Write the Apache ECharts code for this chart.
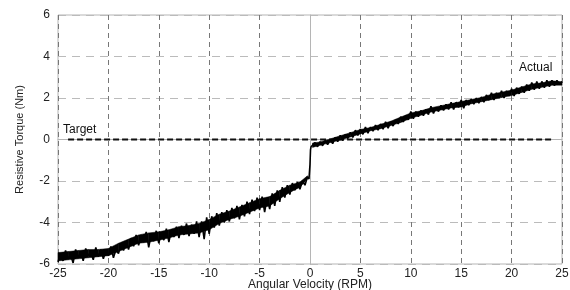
<!DOCTYPE html>
<html>
<head>
<meta charset="utf-8">
<script src="https://cdn.jsdelivr.net/npm/echarts@6/dist/echarts.min.js"></script>
<style>
  html, body { margin: 0; padding: 0; background: #fff; }
  #main { width: 570px; height: 290px; }
</style>
</head>
<body>
<div id="main"></div>
<script>
var rpm = [
  -25, -24.75, -24.5, -24.25, -24, -23.75, -23.5, -23.25,
  -23, -22.75, -22.5, -22.25, -22, -21.75, -21.5, -21.25,
  -21, -20.75, -20.5, -20.25, -20, -19.75, -19.5, -19.25,
  -19, -18.75, -18.5, -18.25, -18, -17.75, -17.5, -17.25,
  -17, -16.75, -16.5, -16.25, -16, -15.75, -15.5, -15.25,
  -15, -14.75, -14.5, -14.25, -14, -13.75, -13.5, -13.25,
  -13, -12.75, -12.5, -12.25, -12, -11.75, -11.5, -11.25,
  -11, -10.75, -10.5, -10.25, -10, -9.75, -9.5, -9.25,
  -9, -8.75, -8.5, -8.25, -8, -7.75, -7.5, -7.25,
  -7, -6.75, -6.5, -6.25, -6, -5.75, -5.5, -5.25,
  -5, -4.75, -4.5, -4.25, -4, -3.75, -3.5, -3.25,
  -3, -2.75, -2.5, -2.25, -2, -1.75, -1.5, -1.25,
  -1, -0.75, -0.5, -0.25, -0.1, 0, 0.05, 0.1,
  0.25, 0.5, 0.75, 1, 1.25, 1.5, 1.75,
  2, 2.25, 2.5, 2.75, 3, 3.25, 3.5, 3.75,
  4, 4.25, 4.5, 4.75, 5, 5.25, 5.5, 5.75,
  6, 6.25, 6.5, 6.75, 7, 7.25, 7.5, 7.75,
  8, 8.25, 8.5, 8.75, 9, 9.25, 9.5, 9.75,
  10, 10.25, 10.5, 10.75, 11, 11.25, 11.5, 11.75,
  12, 12.25, 12.5, 12.75, 13, 13.25, 13.5, 13.75,
  14, 14.25, 14.5, 14.75, 15, 15.25, 15.5, 15.75,
  16, 16.25, 16.5, 16.75, 17, 17.25, 17.5, 17.75,
  18, 18.25, 18.5, 18.75, 19, 19.25, 19.5, 19.75,
  20, 20.25, 20.5, 20.75, 21, 21.25, 21.5, 21.75,
  22, 22.25, 22.5, 22.75, 23, 23.25, 23.5, 23.75,
  24, 24.25, 24.5, 24.75, 25
];
var torque = [
  -5.9, -5.5, -5.85, -5.35, -5.75, -5.55, -5.95, -5.3,
  -5.7, -5.4, -5.85, -5.25, -5.6, -5.45, -5.8, -5.2,
  -5.65, -5.3, -5.75, -5.35, -5.6, -5.15, -5.7, -5.3,
  -5.5, -5.05, -5.35, -4.9, -5.3, -4.75, -5.15, -4.6,
  -5.1, -4.6, -4.95, -4.45, -5.2, -4.55, -4.9, -4.4,
  -5.0, -4.5, -4.85, -4.3, -4.95, -4.35, -4.7, -4.2,
  -4.75, -4.15, -4.6, -4.05, -4.65, -4.1, -4.55, -3.95,
  -4.7, -3.95, -4.8, -3.75, -4.55, -3.7, -4.25, -3.55,
  -4.15, -3.5, -4.0, -3.4, -3.95, -3.3, -3.8, -3.2,
  -3.85, -3.15, -3.7, -3.0, -3.6, -2.9, -3.45, -2.8,
  -3.4, -2.75, -3.5, -2.8, -3.35, -2.6, -3.2, -2.45,
  -3.0, -2.3, -2.8, -2.2, -2.65, -2.1, -2.45, -2.05,
  -2.4, -2.0, -2.2, -1.8, -1.9, -1.2, -0.5, -0.35,
  -0.4, -0.15, -0.35, -0.1, -0.3, -0.05, -0.25,
  0.0, -0.2, 0.1, -0.1, 0.2, -0.05, 0.25, 0.05,
  0.35, 0.1, 0.45, 0.2, 0.5, 0.25, 0.6, 0.3,
  0.6, 0.4, 0.7, 0.45, 0.75, 0.5, 0.85, 0.55,
  0.85, 0.65, 0.95, 0.75, 1.1, 0.85, 1.15, 0.95,
  1.35, 1.0, 1.35, 1.1, 1.4, 1.15, 1.45, 1.2,
  1.6, 1.25, 1.55, 1.35, 1.65, 1.4, 1.7, 1.45,
  1.8, 1.45, 1.8, 1.55, 1.9, 1.5, 1.9, 1.65,
  1.95, 1.7, 2.0, 1.75, 2.05, 1.8, 2.15, 1.9,
  2.25, 1.9, 2.25, 2.0, 2.35, 2.0, 2.35, 2.1,
  2.45, 2.1, 2.5, 2.2, 2.55, 2.25, 2.65, 2.35,
  2.75, 2.4, 2.8, 2.45, 2.8, 2.5, 2.85, 2.55,
  2.85, 2.6, 2.85, 2.65, 2.8
];
// solid core of the trace (where the noise overlaps completely)
var coreRpm = [
  -25, -24, -23, -22, -21, -20, -19, -18, -17, -16, -15, -14, -13,
  -12, -11, -10, -9, -8, -7, -6, -5, -4, -3, -2, -1, -0.25,
  0.25, 1, 2, 3, 4, 5, 6, 7, 8, 9, 10, 11, 12, 13,
  14, 15, 16, 17, 18, 19, 20, 21, 22, 23, 24, 25
];
var coreLow = [
  -5.85, -5.8, -5.75, -5.7, -5.65, -5.6, -5.4, -5.2, -5.0, -4.95, -4.85, -4.75, -4.6,
  -4.55, -4.5, -4.35, -4.05, -3.85, -3.7, -3.5, -3.3, -3.2, -2.85, -2.55, -2.3, -1.9,
  -0.38, -0.28, -0.15, -0.03, 0.12, 0.27, 0.42, 0.52, 0.67, 0.82, 1.02, 1.17, 1.32, 1.42,
  1.52, 1.57, 1.72, 1.82, 1.92, 2.02, 2.12, 2.27, 2.42, 2.52, 2.62, 2.62
];
var coreHigh = [
  -5.45, -5.4, -5.35, -5.3, -5.3, -5.25, -5.0, -4.8, -4.6, -4.5, -4.45, -4.35, -4.2,
  -4.15, -4.05, -3.85, -3.6, -3.45, -3.25, -3.05, -2.85, -2.75, -2.45, -2.2, -2.05, -1.75,
  -0.17, -0.12, 0.03, 0.18, 0.33, 0.48, 0.58, 0.73, 0.88, 1.08, 1.28, 1.38, 1.53, 1.63,
  1.73, 1.83, 1.93, 2.03, 2.18, 2.28, 2.38, 2.53, 2.68, 2.73, 2.83, 2.78
];
var targetRpm = [-24, 24];
var targetTorque = [0, 0];
var xTicks = [-25, 25, 5];
var yTicks = [-6, 6, 2];

var myChart = echarts.init(document.getElementById('main'));

var actual = [];
for (var i = 0; i < rpm.length; i++) {
    actual.push([rpm[i], torque[i]]);
}
var core = [];
for (var k = 0; k < coreRpm.length; k++) {
    core.push([coreRpm[k], coreLow[k], coreHigh[k]]);
}
var target = [];
for (var j = 0; j < targetRpm.length; j++) {
    target.push([targetRpm[j], targetTorque[j]]);
}

// fill the core between two neighbouring samples (no fill across the jump at 0)
function renderCore(params, api) {
    var n = params.dataIndex;
    if (n >= core.length - 1) return null;
    var a = core[n], b = core[n + 1];
    if (a[0] < 0 && b[0] > 0) return null;
    return {
        type: 'polygon',
        shape: {
            points: [
                api.coord([a[0], a[1]]),
                api.coord([b[0], b[1]]),
                api.coord([b[0], b[2]]),
                api.coord([a[0], a[2]])
            ]
        },
        style: { fill: '#000', stroke: '#000', lineWidth: 0.5 }
    };
}

var font = 'Liberation Sans';

var option = {
    backgroundColor: '#fff',
    animation: false,
    grid: {
        left: 58,
        right: 8,
        top: 15,
        bottom: 26,
        outerBoundsMode: 'none',
        show: true,
        borderColor: '#b5b5b5',
        borderWidth: 1
    },
    xAxis: {
        type: 'value',
        min: xTicks[0],
        max: xTicks[1],
        interval: xTicks[2],
        name: 'Angular Velocity (RPM)',
        nameLocation: 'middle',
        nameGap: 15,
        nameMoveOverlap: false,
        nameTextStyle: { fontFamily: font, fontSize: 12, color: '#222' },
        axisLine: { lineStyle: { color: '#b5b5b5' } },
        axisTick: { show: false },
        axisLabel: { fontFamily: font, fontSize: 12, color: '#222', margin: 4 },
        splitLine: {
            show: true,
            lineStyle: { color: '#777', type: [5, 4], width: 1 }
        }
    },
    yAxis: {
        type: 'value',
        min: yTicks[0],
        max: yTicks[1],
        interval: yTicks[2],
        name: 'Resistive Torque (Nm)',
        nameLocation: 'middle',
        nameGap: 33,
        nameMoveOverlap: false,
        nameTextStyle: { fontFamily: font, fontSize: 11, color: '#222' },
        axisLine: { show: true, lineStyle: { color: '#b5b5b5' } },
        axisTick: { show: false },
        axisLabel: { fontFamily: font, fontSize: 12, color: '#222', margin: 8 },
        splitLine: {
            show: true,
            lineStyle: { color: '#bbb', type: [8, 6], width: 1 }
        }
    },
    graphic: [
        { type: 'text', left: 63, top: 124, style: { text: 'Target', fontFamily: font, fontSize: 12, fill: '#111' } },
        { type: 'text', left: 519, top: 62, style: { text: 'Actual', fontFamily: font, fontSize: 12, fill: '#111' } }
    ],
    series: [{
        name: 'Target',
        type: 'line',
        data: target,
        symbol: 'none',
        lineStyle: { color: '#111', width: 2, type: [6, 3] },
        z: 3
    }, {
        name: 'Core',
        type: 'custom',
        data: core,
        renderItem: renderCore,
        encode: { x: 0, y: [1, 2] },
        z: 4
    }, {
        name: 'Actual',
        type: 'line',
        data: actual,
        symbol: 'none',
        lineStyle: { color: '#000', width: 1.6 },
        z: 5
    }]
};
myChart.setOption(option);
</script>
</body>
</html>
